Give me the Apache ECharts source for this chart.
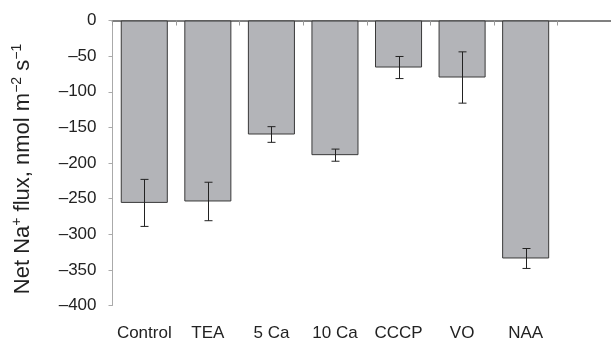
<!DOCTYPE html>
<html>
<head>
<meta charset="utf-8">
<script src="https://cdn.jsdelivr.net/npm/echarts@6/dist/echarts.min.js"></script>
<style>
    html, body {margin: 0; padding: 0; background: #fff;}
    #chart {width: 611px; height: 340px;}
</style>
</head>
<body>
<div id="chart"></div>
<script>
// 处理组 (last slot is empty, the axis runs on past NAA)
var categories = ['Control', 'TEA', '5 Ca', '10 Ca', 'CCCP', 'VO', 'NAA', ''];
// net Na+ flux, nmol m-2 s-1
var fluxMean = [-256, -254, -160, -189, -66, -80, -334];
var fluxErr = [33, 27, 11, 8.5, 15.5, 36, 14];
var yTicks = [0, -50, -100, -150, -200, -250, -300, -350, -400];

var fontName = 'Liberation Sans, Arial, sans-serif';

var errData = [];
for (var i = 0; i < fluxMean.length; i++) {
    errData.push([i, fluxMean[i] - fluxErr[i], fluxMean[i] + fluxErr[i]]);
}

function renderErr(params, api) {
    var lo = api.coord([api.value(0), api.value(1)]);
    var hi = api.coord([api.value(0), api.value(2)]);
    var x = Math.round(lo[0]) + 0.5;
    var cap = 4;
    var style = {stroke: '#222', lineWidth: 1};
    return {
        type: 'group',
        children: [
            {type: 'line', shape: {x1: x, y1: lo[1], x2: x, y2: hi[1]}, style: style},
            {type: 'line', shape: {x1: x - cap, y1: lo[1], x2: x + cap, y2: lo[1]}, style: style},
            {type: 'line', shape: {x1: x - cap, y1: hi[1], x2: x + cap, y2: hi[1]}, style: style}
        ]
    };
}

var myChart = echarts.init(document.getElementById('chart'));
var option = {
    animation: false,
    textStyle: {fontFamily: fontName},
    grid: {left: 112.5, right: -10, top: 20.5, bottom: 34.5, outerBoundsMode: 'none', containLabel: false},
    xAxis: [{
        // 零线 + 分隔刻度
        type: 'category',
        data: categories,
        axisLine: {onZero: true, lineStyle: {color: '#808080', width: 2}},
        axisTick: {show: true, length: 5, lineStyle: {color: '#999'}},
        axisLabel: {show: false},
        splitLine: {show: false}
    }, {
        // 底部类目文字
        type: 'category',
        data: categories,
        position: 'bottom',
        axisLine: {show: false, onZero: false},
        axisTick: {show: false},
        axisLabel: {
            show: true,
            interval: 0,
            margin: 19,
            color: '#222',
            fontSize: 17,
            fontFamily: fontName
        }
    }],
    yAxis: {
        type: 'value',
        min: -400,
        max: 0,
        interval: 50,
        name: '{n|Net Na}{s|+}{n| flux, nmol m}{s|\u22122}{n| s}{s|\u22121}',
        nameLocation: 'middle',
        nameRotate: 90,
        nameGap: 78,
        nameTextStyle: {
            padding: [0, 12, 0, 0],
            rich: {
                n: {fontSize: 22, color: '#222', fontFamily: fontName},
                s: {fontSize: 14, color: '#222', fontFamily: fontName, padding: [0, 0, 10, 0]}
            }
        },
        axisLine: {show: true, lineStyle: {color: '#aaa', width: 1}},
        axisTick: {show: true, length: 4, lineStyle: {color: '#aaa'}},
        splitLine: {show: false},
        axisLabel: {
            margin: 16,
            color: '#222',
            fontSize: 17,
            fontFamily: fontName,
            formatter: function (v) {
                return yTicks.indexOf(v) < 0 ? '' : String(v).replace('-', '\u2013');
            }
        }
    },
    series: [{
        name: 'flux',
        type: 'bar',
        xAxisIndex: 0,
        data: fluxMean,
        barCategoryGap: '26%',
        itemStyle: {color: '#b3b4b8', borderColor: '#3a3a3a', borderWidth: 1}
    }, {
        name: 'err',
        type: 'custom',
        xAxisIndex: 0,
        renderItem: renderErr,
        data: errData,
        z: 3
    }]
};
myChart.setOption(option);
</script>
</body>
</html>
